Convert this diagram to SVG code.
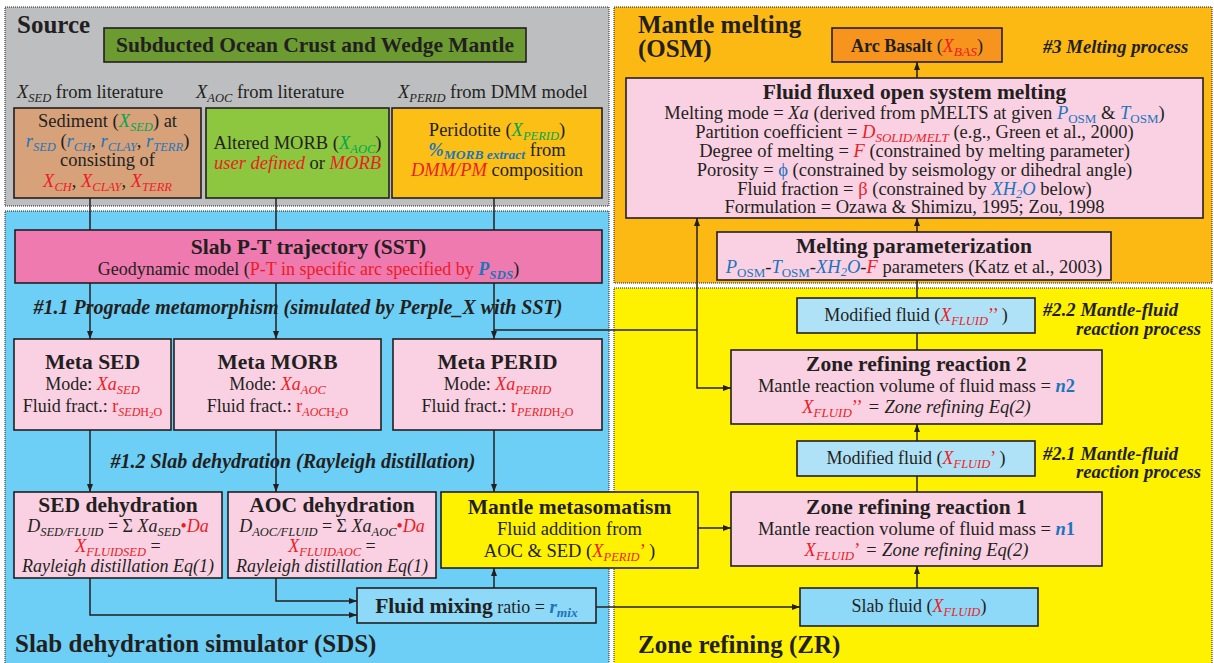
<svg xmlns="http://www.w3.org/2000/svg" width="1214" height="663" viewBox="0 0 1214 663">
<style>
text{font-family:"Liberation Serif","Times New Roman",serif;fill:#231f20;font-size:18px}
.c{text-anchor:middle}
.b{font-weight:bold}
.i{font-style:italic}
.r{fill:#ed1c24}
.u{fill:#1c75bc}
.g{fill:#00a651}
.box{stroke:#231f20;stroke-width:1.6}
.panel{stroke:#231f20;stroke-width:1;stroke-dasharray:1 1}
.conn{stroke:#231f20;stroke-width:1.5;fill:none}
.pl{font-size:25px;font-weight:bold}
.ti{font-size:21.5px;font-weight:bold}
.hd{font-size:18.7px;font-weight:bold;font-style:italic}
.hs{font-size:20px;font-weight:bold;font-style:italic}
.s{font-size:18.5px}
</style>
<defs>
<marker id="ah" markerWidth="8" markerHeight="6" refX="8" refY="3" orient="auto" markerUnits="userSpaceOnUse"><path d="M0,0 L8,3 L0,6 z" fill="#231f20"/></marker>
</defs>
<rect width="1214" height="663" fill="#ffffff"/>
<g id="panels">
<rect class="panel" x="5" y="7" width="604" height="199" fill="#bcbec0"/>
<rect class="panel" x="5" y="211" width="604" height="454" fill="#6dcff6"/>
<rect class="panel" x="614" y="7" width="598" height="276" fill="#fdb913"/>
<rect class="panel" x="614" y="288" width="598" height="377" fill="#fff200"/>
</g>
<g id="panel-labels">
<text class="pl" x="17" y="33">Source</text>
<text class="pl" x="15" y="652">Slab dehydration simulator (SDS)</text>
<text class="pl" x="638" y="33">Mantle melting</text>
<text class="pl" x="638" y="57">(OSM)</text>
<text class="pl" x="638" y="653">Zone refining (ZR)</text>
<text class="hd" x="1043" y="53">#3 Melting process</text>
<text class="hd" x="1043" y="316">#2.2 Mantle-fluid</text>
<text class="hd" x="1201" y="335" text-anchor="end">reaction process</text>
<text class="hd" x="1043" y="460">#2.1 Mantle-fluid</text>
<text class="hd" x="1201" y="478" text-anchor="end">reaction process</text>
<text class="hs c" x="298" y="314">#1.1 Prograde metamorphism (simulated by Perple_X with SST)</text>
<text class="hs c" x="293" y="468">#1.2 Slab dehydration (Rayleigh distillation)</text>
<text class="s" x="17" y="98"><tspan class="i">X</tspan><tspan class="i" dy="4" font-size="12.5">SED</tspan><tspan dy="-4"> from literature</tspan></text>
<text class="s" x="196" y="98"><tspan class="i">X</tspan><tspan class="i" dy="4" font-size="12.5">AOC</tspan><tspan dy="-4"> from literature</tspan></text>
<text class="s" x="398" y="98"><tspan class="i">X</tspan><tspan class="i" dy="4" font-size="12.5">PERID</tspan><tspan dy="-4"> from DMM model</tspan></text>
</g>
<g id="connectors">
<path class="conn" d="M90,198 V230 M276,198 V230 M494,198 V230"/>
<path class="conn" d="M90,283 V339" marker-end="url(#ah)"/>
<path class="conn" d="M276,283 V339" marker-end="url(#ah)"/>
<path class="conn" d="M494,283 V339" marker-end="url(#ah)"/>
<path class="conn" d="M494,330 H697"/>
<path class="conn" d="M697,330 V218" marker-end="url(#ah)"/>
<path class="conn" d="M697,330 V388 H731" marker-end="url(#ah)"/>
<path class="conn" d="M90,430 V492" marker-end="url(#ah)"/>
<path class="conn" d="M276,430 V492" marker-end="url(#ah)"/>
<path class="conn" d="M494,430 V492" marker-end="url(#ah)"/>
<path class="conn" d="M276,578 V601 H357" marker-end="url(#ah)"/>
<path class="conn" d="M90,578 V615 H357" marker-end="url(#ah)"/>
<path class="conn" d="M494,588 V568" marker-end="url(#ah)"/>
<path class="conn" d="M596,607 H800" marker-end="url(#ah)"/>
<path class="conn" d="M698,528 H731" marker-end="url(#ah)"/>
<path class="conn" d="M917,588 V566" marker-end="url(#ah)"/>
<path class="conn" d="M917,492 V476"/>
<path class="conn" d="M917,441 V424" marker-end="url(#ah)"/>
<path class="conn" d="M917,350 V333"/>
<path class="conn" d="M917,298 V280"/>
<path class="conn" d="M917,232 V218" marker-end="url(#ah)"/>
<path class="conn" d="M917,78 V62" marker-end="url(#ah)"/>
</g>
<g id="n-subducted">
<rect class="box" x="104" y="28" width="422" height="34" fill="#6b9b31"/>
<text class="c ti" x="315" y="52">Subducted Ocean Crust and Wedge Mantle</text>
</g>
<g id="n-sediment">
<rect class="box" x="14" y="108" width="187" height="90" fill="#d7a27a"/>
<text class="c s" x="107.5" y="127">Sediment (<tspan class="i g">X</tspan><tspan class="i g" dy="4" font-size="12.5">SED</tspan><tspan dy="-4">) at</tspan></text>
<text class="c s" x="107.5" y="147"><tspan class="i u">r</tspan><tspan class="i u" dy="4" font-size="12.5">SED</tspan><tspan dy="-4"> (</tspan><tspan class="i u">r</tspan><tspan class="i u" dy="4" font-size="12.5">CH</tspan><tspan dy="-4">, </tspan><tspan class="i u">r</tspan><tspan class="i u" dy="4" font-size="12.5">CLAY</tspan><tspan dy="-4">, </tspan><tspan class="i u">r</tspan><tspan class="i u" dy="4" font-size="12.5">TERR</tspan><tspan dy="-4">)</tspan></text>
<text class="c s" x="107.5" y="166">consisting of</text>
<text class="c s" x="107.5" y="187"><tspan class="i r">X</tspan><tspan class="i r" dy="4" font-size="12.5">CH</tspan><tspan dy="-4">, </tspan><tspan class="i r">X</tspan><tspan class="i r" dy="4" font-size="12.5">CLAY</tspan><tspan dy="-4">, </tspan><tspan class="i r">X</tspan><tspan class="i r" dy="4" font-size="12.5">TERR</tspan></text>
</g>
<g id="n-morb">
<rect class="box" x="206" y="108" width="183" height="90" fill="#8dc63f"/>
<text class="c s" x="297.5" y="149">Altered MORB (<tspan class="i g">X</tspan><tspan class="i g" dy="4" font-size="12.5">AOC</tspan><tspan dy="-4">)</tspan></text>
<text class="c s" x="297.5" y="169"><tspan class="i r">user defined</tspan> or <tspan class="i r">MORB</tspan></text>
</g>
<g id="n-peridotite">
<rect class="box" x="392" y="108" width="210" height="90" fill="#fbbf15"/>
<text class="c s" x="497" y="136">Peridotite (<tspan class="i g">X</tspan><tspan class="i g" dy="4" font-size="12.5">PERID</tspan><tspan dy="-4">)</tspan></text>
<text class="c s" x="497" y="156"><tspan class="b i u">%</tspan><tspan class="b i u" dy="3" font-size="13.5">MORB extract</tspan><tspan dy="-3"> from</tspan></text>
<text class="c s" x="497" y="176"><tspan class="i r">DMM/PM</tspan> composition</text>
</g>
<g id="n-sst">
<rect class="box" x="15" y="230" width="587" height="53" fill="#ee7ab0"/>
<text class="c ti" x="308.5" y="254">Slab P-T trajectory (SST)</text>
<text class="c" x="308.5" y="275" font-size="19.5">Geodynamic model (<tspan class="r">P-T in specific arc specified by </tspan><tspan class="b i u">P</tspan><tspan class="b i u" dy="4" font-size="13">SDS</tspan><tspan dy="-4">)</tspan></text>
</g>
<g id="n-metased">
<rect class="box" x="14" y="339" width="157" height="91" fill="#f9d1e3"/>
<text class="c ti" x="92.5" y="369">Meta SED</text>
<text class="c" x="92.5" y="390">Mode: <tspan class="i r">Xa</tspan><tspan class="i r" dy="4" font-size="12.5">SED</tspan></text>
<text class="c" x="92.5" y="412">Fluid fract.:  <tspan class="r">r</tspan><tspan class="i r" dy="4" font-size="12">SED</tspan><tspan class="r" font-size="12">H</tspan><tspan class="r" font-size="9" dy="2">2</tspan><tspan class="r" font-size="12" dy="-2">O</tspan></text>
</g>
<g id="n-metamorb">
<rect class="box" x="174" y="339" width="207" height="91" fill="#f9d1e3"/>
<text class="c ti" x="277.5" y="369">Meta MORB</text>
<text class="c" x="277.5" y="390">Mode: <tspan class="i r">Xa</tspan><tspan class="i r" dy="4" font-size="12.5">AOC</tspan></text>
<text class="c" x="277.5" y="412">Fluid fract.:  <tspan class="r">r</tspan><tspan class="i r" dy="4" font-size="12">AOC</tspan><tspan class="r" font-size="12">H</tspan><tspan class="r" font-size="9" dy="2">2</tspan><tspan class="r" font-size="12" dy="-2">O</tspan></text>
</g>
<g id="n-metaperid">
<rect class="box" x="393" y="339" width="209" height="91" fill="#f9d1e3"/>
<text class="c ti" x="497.5" y="369">Meta PERID</text>
<text class="c" x="497.5" y="390">Mode: <tspan class="i r">Xa</tspan><tspan class="i r" dy="4" font-size="12.5">PERID</tspan></text>
<text class="c" x="497.5" y="412">Fluid fract.:  <tspan class="r">r</tspan><tspan class="i r" dy="4" font-size="12">PERID</tspan><tspan class="r" font-size="12">H</tspan><tspan class="r" font-size="9" dy="2">2</tspan><tspan class="r" font-size="12" dy="-2">O</tspan></text>
</g>
<g id="n-seddehyd">
<rect class="box" x="14" y="492" width="208" height="86" fill="#f9d1e3"/>
<text class="c ti" x="118" y="512">SED dehydration</text>
<text class="c" x="118" y="532"><tspan class="i">D</tspan><tspan class="i" dy="4" font-size="12.5">SED/FLUID</tspan><tspan dy="-4"> = Σ </tspan><tspan class="i">Xa</tspan><tspan class="i" dy="4" font-size="12.5">SED</tspan><tspan class="r" dy="-4">•</tspan><tspan class="i r">Da</tspan></text>
<text class="c" x="118" y="552"><tspan class="i r">X</tspan><tspan class="i r" dy="4" font-size="12.5">FLUIDSED</tspan><tspan dy="-4"> =</tspan></text>
<text class="c i" x="118" y="572">Rayleigh distillation Eq(1)</text>
</g>
<g id="n-aocdehyd">
<rect class="box" x="228" y="492" width="208" height="86" fill="#f9d1e3"/>
<text class="c ti" x="332" y="512">AOC dehydration</text>
<text class="c" x="332" y="532"><tspan class="i">D</tspan><tspan class="i" dy="4" font-size="12.5">AOC/FLUID</tspan><tspan dy="-4"> = Σ </tspan><tspan class="i">Xa</tspan><tspan class="i" dy="4" font-size="12.5">AOC</tspan><tspan class="r" dy="-4">•</tspan><tspan class="i r">Da</tspan></text>
<text class="c" x="332" y="552"><tspan class="i r">X</tspan><tspan class="i r" dy="4" font-size="12.5">FLUIDAOC</tspan><tspan dy="-4"> =</tspan></text>
<text class="c i" x="332" y="572">Rayleigh distillation Eq(1)</text>
</g>
<g id="n-metasomatism">
<rect class="box" x="441" y="492" width="257" height="76" fill="#fff200"/>
<text class="c ti" x="569.5" y="514">Mantle metasomatism</text>
<text class="c s" x="569.5" y="535">Fluid addition from</text>
<text class="c s" x="569.5" y="557">AOC &amp; SED (<tspan class="i r">X</tspan><tspan class="i r" dy="4" font-size="12.5">PERID</tspan><tspan class="r" dy="-4">’</tspan> )</text>
</g>
<g id="n-fluidmixing">
<rect class="box" x="357" y="588" width="239" height="35" fill="#8ed8f8"/>
<text class="c" x="476.5" y="613"><tspan class="ti">Fluid mixing</tspan> ratio = <tspan class="b i u" font-size="19">r</tspan><tspan class="b i u" dy="4" font-size="13.5">mix</tspan></text>
</g>
<g id="n-arcbasalt">
<rect class="box" x="832" y="28" width="170" height="34" fill="#f7941d"/>
<text class="c" x="917" y="52" font-size="21"><tspan font-weight="bold">Arc Basalt </tspan>(<tspan class="i r">X</tspan><tspan class="i r" dy="4" font-size="13.5">BAS</tspan><tspan dy="-4">)</tspan></text>
</g>
<g id="n-osm">
<rect class="box" x="626" y="78" width="577" height="140" fill="#f9d1e3"/>
<text class="c ti" x="914.5" y="99">Fluid fluxed open system melting</text>
<text class="c s" x="914.5" y="119">Melting mode = <tspan class="i">Xa</tspan> (derived from pMELTS at given <tspan class="i u">P</tspan><tspan class="u" dy="4" font-size="13">OSM</tspan><tspan dy="-4"> &amp; </tspan><tspan class="i u">T</tspan><tspan class="u" dy="4" font-size="13">OSM</tspan><tspan dy="-4">)</tspan></text>
<text class="c s" x="914.5" y="138">Partition coefficient = <tspan class="i r">D</tspan><tspan class="i r" dy="4" font-size="13">SOLID/MELT</tspan><tspan dy="-4"> (e.g., Green et al., 2000)</tspan></text>
<text class="c s" x="914.5" y="157">Degree of melting = <tspan class="i r">F</tspan> (constrained by melting parameter)</text>
<text class="c s" x="914.5" y="176">Porosity = <tspan class="u">ϕ</tspan> (constrained by seismology or dihedral angle)</text>
<text class="c s" x="914.5" y="195">Fluid fraction = <tspan class="r">β</tspan> (constrained by <tspan class="i u">XH</tspan><tspan class="i u" dy="3" font-size="12.5">2</tspan><tspan class="i u" dy="-3">O</tspan> below)</text>
<text class="c s" x="914.5" y="213">Formulation = Ozawa &amp; Shimizu, 1995; Zou, 1998</text>
</g>
<g id="n-meltparam">
<rect class="box" x="717" y="232" width="394" height="48" fill="#f9d1e3"/>
<text class="c ti" x="914" y="253">Melting parameterization</text>
<text class="c s" x="914" y="273"><tspan class="i u">P</tspan><tspan class="u" dy="4" font-size="13">OSM</tspan><tspan dy="-4">-</tspan><tspan class="i u">T</tspan><tspan class="u" dy="4" font-size="13">OSM</tspan><tspan dy="-4">-</tspan><tspan class="i u">XH</tspan><tspan class="i u" dy="3" font-size="12.5">2</tspan><tspan class="i u" dy="-3">O</tspan>-<tspan class="i r">F</tspan> parameters (Katz et al., 2003)</text>
</g>
<g id="n-modfluid2">
<rect class="box" x="797" y="298" width="238" height="35" fill="#b0e2f7"/>
<text class="c" x="916" y="321">Modified fluid (<tspan class="i r">X</tspan><tspan class="i r" dy="4" font-size="12.5">FLUID</tspan><tspan class="r" dy="-4">’’</tspan>  )</text>
</g>
<g id="n-zr2">
<rect class="box" x="731" y="350" width="371" height="74" fill="#f9d1e3"/>
<text class="c ti" x="916.5" y="371">Zone refining reaction 2</text>
<text class="c s" x="916.5" y="392">Mantle reaction volume of fluid mass = <tspan class="b u"><tspan class="i">n</tspan>2</tspan></text>
<text class="c s" x="916.5" y="413"><tspan class="i r">X</tspan><tspan class="i r" dy="4" font-size="13">FLUID</tspan><tspan class="r" dy="-4">’’</tspan><tspan class="i"> = Zone refining Eq(2)</tspan></text>
</g>
<g id="n-modfluid1">
<rect class="box" x="797" y="441" width="238" height="35" fill="#b0e2f7"/>
<text class="c" x="916" y="464">Modified fluid (<tspan class="i r">X</tspan><tspan class="i r" dy="4" font-size="12.5">FLUID</tspan><tspan class="r" dy="-4">’</tspan>  )</text>
</g>
<g id="n-zr1">
<rect class="box" x="731" y="492" width="371" height="74" fill="#f9d1e3"/>
<text class="c ti" x="916.5" y="514">Zone refining reaction 1</text>
<text class="c s" x="916.5" y="535">Mantle reaction volume of fluid mass = <tspan class="b u"><tspan class="i">n</tspan>1</tspan></text>
<text class="c s" x="916.5" y="556"><tspan class="i r">X</tspan><tspan class="i r" dy="4" font-size="13">FLUID</tspan><tspan class="r" dy="-4">’</tspan><tspan class="i">  = Zone refining Eq(2)</tspan></text>
</g>
<g id="n-slabfluid">
<rect class="box" x="800" y="588" width="238" height="38" fill="#8ed8f8"/>
<text class="c" x="919" y="612">Slab fluid (<tspan class="i r">X</tspan><tspan class="i r" dy="4" font-size="12.5">FLUID</tspan><tspan dy="-4">)</tspan></text>
</g>
</svg>
